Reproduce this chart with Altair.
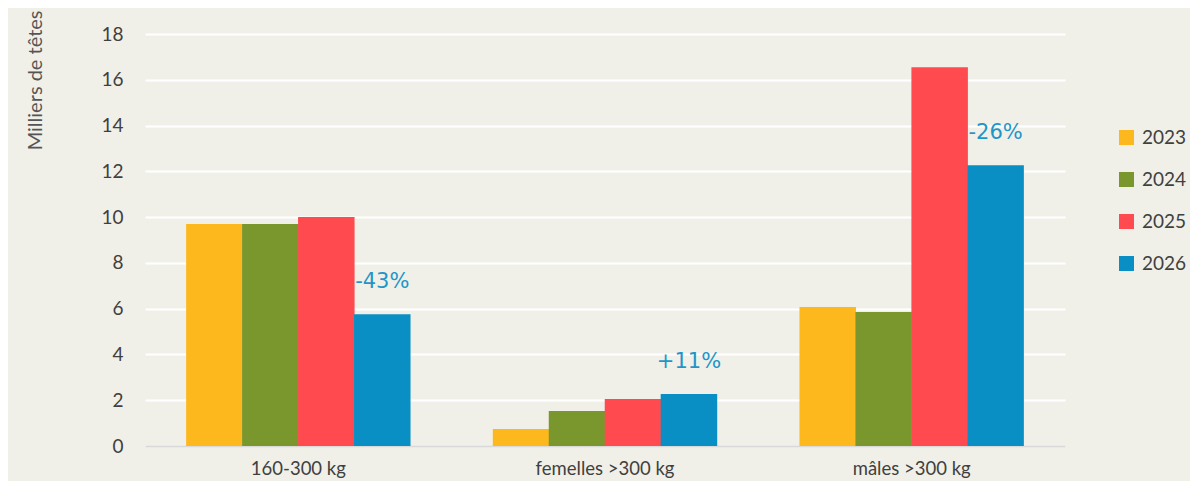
import altair as alt
import pandas as pd

categories = ["160-300 kg", "femelles >300 kg", "mâles >300 kg"]
years = ["2023", "2024", "2025", "2026"]
v2023 = [9.7, 0.74, 6.07]
v2024 = [9.7, 1.53, 5.85]
v2025 = [10.0, 2.05, 16.55]
v2026 = [5.76, 2.27, 12.27]
change_labels = ["-43%", "+11%", "-26%"]
colors = ["#FDB81E", "#7A972D", "#FF4B4F", "#0A8FC4"]
y_ticks = [0, 2, 4, 6, 8, 10, 12, 14, 16, 18]

rows = []
for yr, vals in zip(years, [v2023, v2024, v2025, v2026]):
    for c, v in zip(categories, vals):
        rows.append({"cat": c, "year": yr, "value": v})
df = pd.DataFrame(rows)
lab = pd.DataFrame({"cat": categories, "year": ["2026"] * 3, "value": v2026, "label": change_labels})

FONT = "Lato"
FS = 19

x = alt.X("cat:N", sort=categories, title=None,
          scale=alt.Scale(paddingInner=0.27, paddingOuter=0.135),
          axis=alt.Axis(labelAngle=0, labelFontSize=18.5, labelColor="#404040", labelFont=FONT,
                        labelPadding=13, ticks=False, domainColor="#d9d9d9", domainWidth=2))
xo = alt.XOffset("year:N", sort=years, scale=alt.Scale(domain=years, paddingInner=0, paddingOuter=0))
y = alt.Y("value:Q", title="Milliers de têtes",
          scale=alt.Scale(domain=[0, 18], nice=False),
          axis=alt.Axis(values=y_ticks, labelFontSize=FS, labelColor="#404040", labelFont=FONT,
                        labelPadding=22, ticks=False, domain=False, gridColor="#ffffff", gridWidth=2,
                        titleFont=FONT, titleFontSize=20, titleColor="#555555", titleFontWeight="normal",
                        titleAngle=-90, titleAlign="right", titleBaseline="middle",
                        titleX=-110, titleY=-24))

bars = alt.Chart(df).mark_bar(size=56.5).encode(
    x=x, xOffset=xo, y=y,
    color=alt.Color("year:N", sort=years, scale=alt.Scale(domain=years, range=colors),
                    legend=alt.Legend(title=None, orient="none", legendX=972, legendY=94,
                                      symbolType="square", symbolSize=225, symbolStrokeWidth=0,
                                      labelFontSize=FS, labelFont=FONT, labelColor="#404040",
                                      rowPadding=22, labelOffset=6))
)

texts = alt.Chart(lab).mark_text(fontSize=21, font="DejaVu Sans", color="#1E96C8", dy=-32).encode(
    x=alt.X("cat:N", sort=categories), xOffset=alt.XOffset("year:N", sort=years), y="value:Q", text="label:N"
)

chart = alt.layer(bars, texts).properties(
    width=920, height=412,
    autosize=alt.AutoSizeParams(type="none"),
    padding={"left": 137, "top": 26, "right": 125, "bottom": 35},
    background="#F0F0E8",
).configure_view(stroke=None)

chart.save("out.html", embed_options={"renderer": "svg", "actions": False})
